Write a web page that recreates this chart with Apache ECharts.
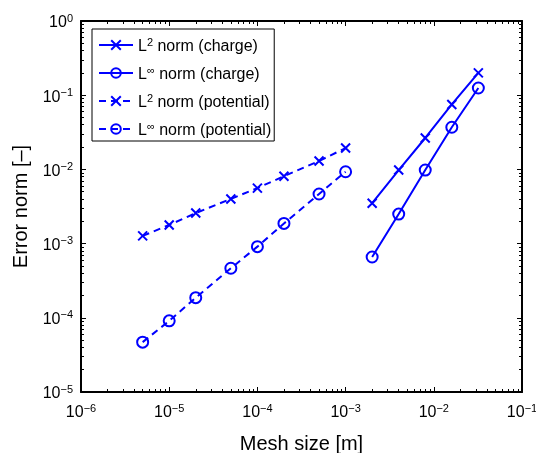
<!DOCTYPE html>
<html>
<head>
<meta charset="utf-8">
<script src="https://cdn.jsdelivr.net/npm/echarts@6/dist/echarts.min.js"></script>
<style>
html,body{margin:0;padding:0;background:#fff;}
#chart{width:536px;height:453px;}
</style>
</head>
<body>
<div id="chart"></div>
<script>
// ---- data ----
const chargeMesh = [2e-3, 4e-3, 8e-3, 1.6e-2, 3.2e-2];
const l2Charge = [3.5e-3, 9.8e-3, 0.0265, 0.075, 0.2];
const linfCharge = [6.6e-4, 2.5e-3, 9.8e-3, 0.037, 0.125];
const potentialMesh = [5e-6, 1e-5, 2e-5, 5e-5, 1e-4, 2e-4, 5e-4, 1e-3];
const l2Potential = [1.27e-3, 1.78e-3, 2.58e-3, 4.0e-3, 5.6e-3, 8.1e-3, 1.3e-2, 1.94e-2];
const linfPotential = [4.7e-5, 9.1e-5, 1.87e-4, 4.65e-4, 9.1e-4, 1.87e-3, 4.66e-3, 9.3e-3];
const seriesNames = ['L^2 norm (charge)', 'L^∞ norm (charge)', 'L^2 norm (potential)', 'L^∞ norm (potential)'];
const xTicks = [1e-6, 1e-5, 1e-4, 1e-3, 1e-2, 1e-1];
const yTicks = [1e-5, 1e-4, 1e-3, 1e-2, 1e-1, 1e0];
const xTitle = 'Mesh size [m]';
const yTitle = 'Error norm [–]';

function minorTicks(majors) {
  const out = [];
  for (let i = 0; i < majors.length - 1; i++) {
    for (let k = 2; k <= 9; k++) out.push(+(majors[i] * k).toPrecision(6));
  }
  return out;
}
const xMinor = minorTicks(xTicks);
const yMinor = minorTicks(yTicks);

const FONT = 'Liberation Sans';
const BLUE = '#0000ff';
const expRich = {
  b: { fontFamily: FONT, fontSize: 16, lineHeight: 16, color: '#000', padding: [4, 0, 0, 0] },
  s: { fontFamily: FONT, fontSize: 11, lineHeight: 11, color: '#000', verticalAlign: 'top' }
};
function expFmt(v) {
  const e = Math.round(Math.log10(v));
  return '{b|10}{s|' + String(e).replace('-', '−') + '}';
}
const axisLine = { show: true, lineStyle: { color: '#000', width: 2 } };

function majorAxis(pos, isX, labels, gridIndex) {
  return {
    type: 'log', logBase: 10, gridIndex: gridIndex,
    min: isX ? xTicks[0] : yTicks[0],
    max: isX ? xTicks[xTicks.length - 1] : yTicks[yTicks.length - 1],
    position: pos,
    axisLine: axisLine,
    axisTick: { show: true, inside: true, length: 5, lineStyle: { color: '#000', width: 1 } },
    axisLabel: labels ? { show: true, formatter: expFmt, rich: expRich, margin: isX ? 11 : 8 } : { show: false },
    splitLine: { show: false },
    minorTick: { show: false },
    minorSplitLine: { show: false }
  };
}
function minorAxis(pos, isX) {
  return {
    type: 'log', logBase: 10, gridIndex: 1,
    min: isX ? xTicks[0] : yTicks[0],
    max: isX ? xTicks[xTicks.length - 1] : yTicks[yTicks.length - 1],
    position: pos,
    axisLine: { show: false },
    axisTick: { show: true, inside: true, length: 3, customValues: isX ? xMinor : yMinor, lineStyle: { color: '#000', width: 1 } },
    axisLabel: { show: false },
    splitLine: { show: false }
  };
}

const xb = majorAxis('bottom', true, true, 0);
xb.name = xTitle; xb.nameLocation = 'middle'; xb.nameGap = 42;
xb.nameTextStyle = { fontFamily: FONT, fontSize: 20, color: '#000' };
const yl = majorAxis('left', false, true, 0);
yl.name = yTitle; yl.nameLocation = 'middle'; yl.nameGap = 49;
yl.nameTextStyle = { fontFamily: FONT, fontSize: 20, color: '#000' };

const gridBox = { left: 81, top: 21, right: 14, bottom: 61, containLabel: false, outerBoundsMode: 'none' };

function mkSeries(name, xs, ys, marker, dashed) {
  return {
    name: name, type: 'line', xAxisIndex: 0, yAxisIndex: 0,
    data: xs.map((x, i) => [x, ys[i]]),
    symbol: marker === 'x' ? 'path://M0,0L10,10M10,0L0,10' : 'circle',
    symbolSize: marker === 'x' ? 9 : 11,
    showSymbol: true,
    itemStyle: { color: 'none', borderColor: BLUE, borderWidth: 2 },
    lineStyle: { color: BLUE, width: 2, type: dashed ? [7, 5] : 'solid' },
    emphasis: { disabled: true },
    animation: false,
    z: 3
  };
}

const chart = echarts.init(document.getElementById('chart'), null, { renderer: 'canvas' });
chart.setOption({
  animation: false,
  backgroundColor: '#fff',
  grid: [gridBox, Object.assign({}, gridBox)],
  xAxis: [xb, majorAxis('top', true, false, 0), minorAxis('bottom', true), minorAxis('top', true)],
  yAxis: [yl, majorAxis('right', false, false, 0), minorAxis('left', false), minorAxis('right', false)],
  legend: {
    left: 92, top: 29, orient: 'vertical',
    backgroundColor: '#fff', borderColor: '#000', borderWidth: 1, borderRadius: 0,
    padding: [6, 3, 2, 6],
    itemWidth: 34, itemHeight: 12, itemGap: 8,
    data: seriesNames,
    formatter: function (name) {
      const m = name.match(/^L\^(\S+) (.*)$/);
      return '{b|L}{s|' + m[1] + '}{b| ' + m[2] + '}';
    },
    textStyle: {
      rich: {
        b: { fontFamily: FONT, fontSize: 16, lineHeight: 16, color: '#000', padding: [4, 0, 0, 0] },
        s: { fontFamily: FONT, fontSize: 11, lineHeight: 11, color: '#000', verticalAlign: 'top' }
      }
    }
  },
  series: [
    mkSeries(seriesNames[0], chargeMesh, l2Charge, 'x', false),
    mkSeries(seriesNames[1], chargeMesh, linfCharge, 'o', false),
    mkSeries(seriesNames[2], potentialMesh, l2Potential, 'x', true),
    mkSeries(seriesNames[3], potentialMesh, linfPotential, 'o', true)
  ]
});
</script>
</body>
</html>
